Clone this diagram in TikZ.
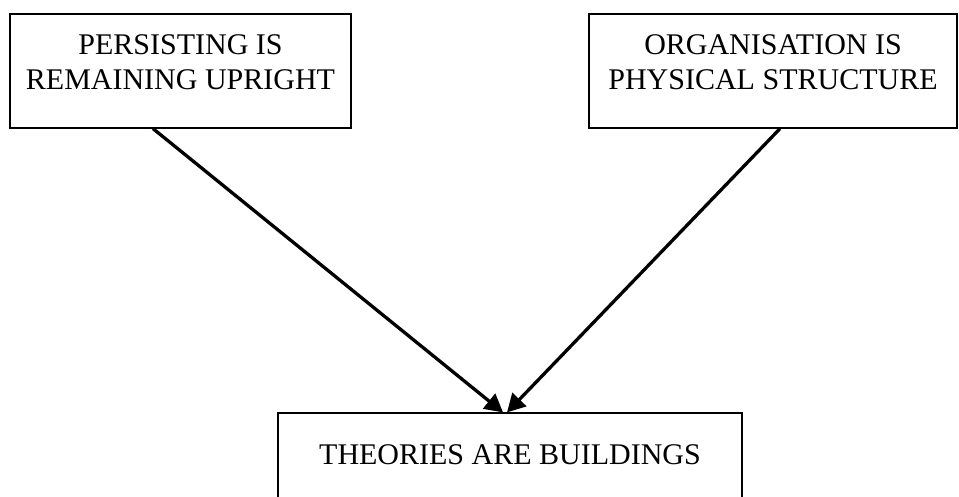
\documentclass[tikz,border=0pt]{standalone}
\usepackage{fontspec}
\setmainfont{Liberation Serif}
\usetikzlibrary{arrows.meta}

\tikzset{
  metaphor/.style={draw, rectangle, line width=1.2pt, align=center, inner sep=0pt,
    font=\fontsize{30}{35}\selectfont},
  link/.style={line width=3.3pt, -{Triangle[length=18pt,width=19pt]}, shorten >=0pt}
}

\begin{document}
\begin{tikzpicture}[x=1pt,y=-1pt]
  % \draw[step=50,thin,gray!40] (0,0) grid (959,496);
  \useasboundingbox (0,0) rectangle (959,496);

  \node[metaphor, minimum width=341pt, minimum height=114pt, text depth=17pt] (persistNode) at (180.5,71) {PERSISTING IS\\REMAINING UPRIGHT};
  \node[metaphor, minimum width=368pt, minimum height=114pt, text depth=17pt] (organiseNode) at (773,71) {ORGANISATION IS\\PHYSICAL STRUCTURE};
  \node[metaphor, minimum width=464pt, minimum height=90pt, text depth=6pt] (theoriesNode) at (510,458) {THEORIES ARE BUILDINGS};

  \draw[link] ([xshift=-27.5pt]persistNode.south) -- ([xshift=-7pt]theoriesNode.north);
  \draw[link] ([xshift=7pt]organiseNode.south) -- ([xshift=-3pt]theoriesNode.north);
\end{tikzpicture}
\end{document}
